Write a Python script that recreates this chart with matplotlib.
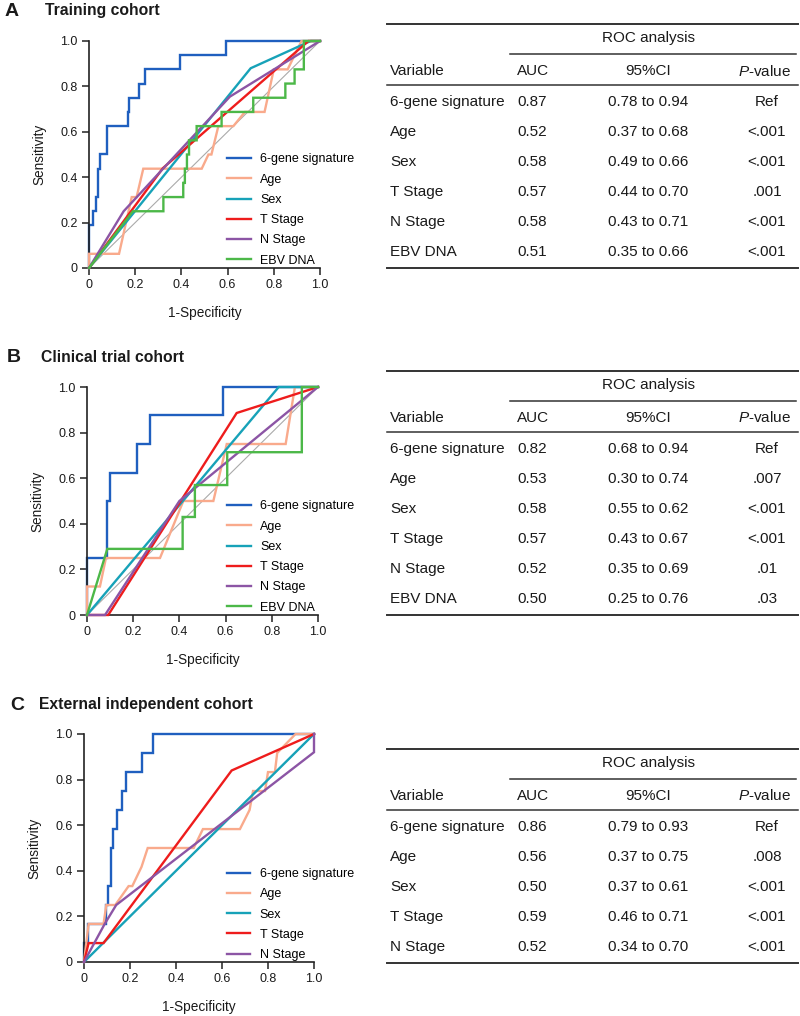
import matplotlib
matplotlib.use('Agg')
import matplotlib.pyplot as plt
from matplotlib.lines import Line2D

plt.rcParams['font.family'] = ['Liberation Sans', 'DejaVu Sans']
plt.rcParams['mathtext.fontset'] = 'custom'
plt.rcParams['mathtext.rm'] = 'Liberation Sans'
plt.rcParams['mathtext.it'] = 'Liberation Sans:italic'

# ---------------- DATA ----------------
LABELS = ['6-gene signature', 'Age', 'Sex', 'T Stage', 'N Stage', 'EBV DNA']
COLORS = ['#1F5FBF', '#F9AA8C', '#17A2B8', '#EE1C1C', '#8C55A5', '#4CB848']
TICKS = [0, 0.2, 0.4, 0.6, 0.8, 1.0]
TICK_LABELS = ['0', '0.2', '0.4', '0.6', '0.8', '1.0']

# Panel A - Training cohort
A_SIG_FPR = [0, 0, 0.016, 0.016, 0.03, 0.03, 0.04, 0.04, 0.048, 0.048, 0.08, 0.08, 0.167, 0.167,
             0.175, 0.175, 0.218, 0.218, 0.242, 0.242, 0.394, 0.394, 0.592, 0.592, 1.0]
A_SIG_TPR = [0, 0.1875, 0.1875, 0.25, 0.25, 0.3125, 0.3125, 0.4375, 0.4375, 0.5, 0.5, 0.625, 0.625,
             0.6875, 0.6875, 0.75, 0.75, 0.8125, 0.8125, 0.875, 0.875, 0.9375, 0.9375, 1.0, 1.0]
A_AGE_FPR = [0, 0, 0.13, 0.185, 0.206, 0.235, 0.488, 0.517, 0.53, 0.56, 0.625, 0.675, 0.76, 0.80, 0.86, 0.92, 1.0]
A_AGE_TPR = [0, 0.0625, 0.0625, 0.3125, 0.3125, 0.4375, 0.4375, 0.5, 0.5, 0.625, 0.625, 0.6875, 0.6875,
             0.875, 0.875, 1.0, 1.0]
A_SEX_FPR = [0, 0.70, 0.96, 1.0]
A_SEX_TPR = [0, 0.88, 1.0, 1.0]
A_T_FPR = [0, 0.32, 0.95, 1.0]
A_T_TPR = [0, 0.44, 1.0, 1.0]
A_N_FPR = [0, 0.15, 0.61, 1.0]
A_N_TPR = [0, 0.25, 0.755, 1.0]
A_EBV_FPR = [0, 0.19, 0.322, 0.322, 0.408, 0.408, 0.415, 0.415, 0.424, 0.424, 0.433, 0.433, 0.466, 0.466,
             0.574, 0.574, 0.711, 0.711, 0.85, 0.85, 0.89, 0.89, 0.93, 0.93, 1.0]
A_EBV_TPR = [0, 0.25, 0.25, 0.3125, 0.3125, 0.375, 0.375, 0.4375, 0.4375, 0.5, 0.5, 0.5625, 0.5625, 0.625,
             0.625, 0.6875, 0.6875, 0.75, 0.75, 0.8125, 0.8125, 0.875, 0.875, 1.0, 1.0]

# Panel B - Clinical trial cohort
B_SIG_FPR = [0, 0, 0.088, 0.088, 0.1, 0.1, 0.218, 0.218, 0.273, 0.273, 0.59, 0.59, 1.0]
B_SIG_TPR = [0, 0.25, 0.25, 0.5, 0.5, 0.625, 0.625, 0.75, 0.75, 0.875, 0.875, 1.0, 1.0]
B_AGE_FPR = [0, 0, 0.056, 0.082, 0.316, 0.417, 0.547, 0.605, 0.86, 0.88, 0.9, 1.0]
B_AGE_TPR = [0, 0.125, 0.125, 0.25, 0.25, 0.5, 0.5, 0.75, 0.75, 0.875, 1.0, 1.0]
B_SEX_FPR = [0, 0.83, 1.0]
B_SEX_TPR = [0, 1.0, 1.0]
B_T_FPR = [0, 0.092, 0.648, 1.0]
B_T_TPR = [0, 0, 0.886, 1.0]
B_N_FPR = [0, 0.078, 0.40, 1.0]
B_N_TPR = [0, 0, 0.5, 1.0]
B_EBV_FPR = [0, 0.088, 0.414, 0.414, 0.467, 0.467, 0.607, 0.607, 0.93, 0.93, 1.0]
B_EBV_TPR = [0, 0.29, 0.29, 0.43, 0.43, 0.57, 0.57, 0.714, 0.714, 1.0, 1.0]

# Panel C - External independent cohort
C_SIG_FPR = [0, 0, 0.016, 0.016, 0.096, 0.096, 0.105, 0.105, 0.116, 0.116, 0.125, 0.125, 0.142, 0.142,
             0.164, 0.164, 0.183, 0.183, 0.252, 0.252, 0.30, 0.30, 1.0]
C_SIG_TPR = [0, 0.083, 0.083, 0.167, 0.167, 0.25, 0.25, 0.333, 0.333, 0.5, 0.5, 0.583, 0.583, 0.667,
             0.667, 0.75, 0.75, 0.833, 0.833, 0.917, 0.917, 1.0, 1.0]
C_AGE_FPR = [0, 0.02, 0.085, 0.097, 0.136, 0.194, 0.21, 0.25, 0.277, 0.477, 0.517, 0.678, 0.72, 0.735,
             0.787, 0.80, 0.83, 0.84, 0.92, 1.0]
C_AGE_TPR = [0, 0.167, 0.167, 0.25, 0.25, 0.333, 0.333, 0.417, 0.5, 0.5, 0.583, 0.583, 0.667, 0.75,
             0.75, 0.833, 0.833, 0.917, 1.0, 1.0]
C_SEX_FPR = [0, 1.0]
C_SEX_TPR = [0, 1.0]
C_T_FPR = [0, 0.02, 0.085, 0.642, 1.0]
C_T_TPR = [0, 0.083, 0.083, 0.84, 1.0]
C_N_FPR = [0, 0.09, 0.14, 1.0, 1.0]
C_N_TPR = [0, 0.167, 0.25, 0.92, 1.0]

# Tables
TAB_A_VAR = ['6-gene signature', 'Age', 'Sex', 'T Stage', 'N Stage', 'EBV DNA']
TAB_A_AUC = ['0.87', '0.52', '0.58', '0.57', '0.58', '0.51']
TAB_A_CI = ['0.78 to 0.94', '0.37 to 0.68', '0.49 to 0.66', '0.44 to 0.70', '0.43 to 0.71', '0.35 to 0.66']
TAB_A_P = ['Ref', '<.001', '<.001', '.001', '<.001', '<.001']

TAB_B_VAR = ['6-gene signature', 'Age', 'Sex', 'T Stage', 'N Stage', 'EBV DNA']
TAB_B_AUC = ['0.82', '0.53', '0.58', '0.57', '0.52', '0.50']
TAB_B_CI = ['0.68 to 0.94', '0.30 to 0.74', '0.55 to 0.62', '0.43 to 0.67', '0.35 to 0.69', '0.25 to 0.76']
TAB_B_P = ['Ref', '.007', '<.001', '<.001', '.01', '.03']

TAB_C_VAR = ['6-gene signature', 'Age', 'Sex', 'T Stage', 'N Stage']
TAB_C_AUC = ['0.86', '0.56', '0.50', '0.59', '0.52']
TAB_C_CI = ['0.79 to 0.93', '0.37 to 0.75', '0.37 to 0.61', '0.46 to 0.71', '0.34 to 0.70']
TAB_C_P = ['Ref', '.008', '<.001', '<.001', '<.001']

# ---------------- FIGURE ----------------
W, H = 800, 1016
fig = plt.figure(figsize=(W / 100, H / 100), dpi=100)
TXT = '#1a1a1a'


def fx(px):
    return px / W


def fy(py):
    return 1 - py / H


def roc_panel(left, top, width, height, curves, legend_x, legend_y):
    ax = fig.add_axes([fx(left), fy(top + height), width / W, height / H])
    ax.plot([0, 1], [0, 1], color='#AAAAAA', lw=0.8, zorder=1)
    handles = []
    for i, (xs, ys) in enumerate(curves):
        ln, = ax.plot(xs, ys, color=COLORS[i], lw=1.7, label=LABELS[i],
                      clip_on=False, zorder=2 + i, solid_joinstyle='miter')
        handles.append(ln)
    ax.set_xlim(0, 1)
    ax.set_ylim(0, 1)
    ax.set_xticks(TICKS)
    ax.set_xticklabels(TICK_LABELS)
    ax.set_yticks(TICKS)
    ax.set_yticklabels(TICK_LABELS)
    for s in ['top', 'right']:
        ax.spines[s].set_visible(False)
    for s in ['left', 'bottom']:
        ax.spines[s].set_linewidth(1.2)
        ax.spines[s].set_color('#222222')
    ax.tick_params(direction='out', length=5, width=1.1, labelsize=9, pad=3,
                   colors='#222222', labelcolor=TXT)
    ax.set_xlabel('1-Specificity', fontsize=9.8, color=TXT, labelpad=11)
    ax.set_ylabel('Sensitivity', fontsize=9.8, color=TXT, labelpad=10)
    ax.legend(handles=handles, loc='lower left', bbox_to_anchor=(legend_x, legend_y),
              frameon=False, fontsize=9, labelspacing=0.66, handlelength=1.9,
              handletextpad=0.75, borderpad=0, borderaxespad=0)
    return ax


def panel_title(letter, title, lx, tx, y):
    fig.text(fx(lx), fy(y), letter, fontsize=14, fontweight='bold', ha='left', va='center', color=TXT)
    fig.text(fx(tx), fy(y), title, fontsize=11.3, fontweight='bold', ha='left', va='center', color=TXT)


def hline(y, x0=387, x1=798, lw=1.4):
    fig.add_artist(Line2D([fx(x0), fx(x1)], [fy(y), fy(y)], color='#333333', lw=lw))


def table(y0, var, auc, ci, p):
    fs = 11
    hline(y0)
    fig.text(fx(648), fy(y0 + 14), 'ROC analysis', fontsize=fs, ha='center', va='center', color=TXT)
    hline(y0 + 30, x0=510, x1=796, lw=1.1)
    hy = y0 + 47
    fig.text(fx(390), fy(hy), 'Variable', fontsize=fs, ha='left', va='center', color=TXT)
    fig.text(fx(517), fy(hy), 'AUC', fontsize=fs, ha='left', va='center', color=TXT)
    fig.text(fx(648), fy(hy), '95%CI', fontsize=fs, ha='center', va='center', color=TXT)
    fig.text(fx(765), fy(hy), r'$\mathit{P}$-value', fontsize=fs, ha='center', va='center', color=TXT)
    hline(y0 + 61, lw=1.1)
    ry = y0 + 78
    for i in range(len(var)):
        yy = ry + 30 * i
        fig.text(fx(390), fy(yy), var[i], fontsize=fs, ha='left', va='center', color=TXT)
        fig.text(fx(517), fy(yy), auc[i], fontsize=fs, ha='left', va='center', color=TXT)
        fig.text(fx(648), fy(yy), ci[i], fontsize=fs, ha='center', va='center', color=TXT)
        fig.text(fx(767), fy(yy), p[i], fontsize=fs, ha='center', va='center', color=TXT)
    hline(ry + 30 * (len(var) - 1) + 16)


# Panel A
panel_title('A', 'Training cohort', 5, 45, 11)
roc_panel(89, 41, 231, 227,
          [(A_SIG_FPR, A_SIG_TPR), (A_AGE_FPR, A_AGE_TPR), (A_SEX_FPR, A_SEX_TPR),
           (A_T_FPR, A_T_TPR), (A_N_FPR, A_N_TPR), (A_EBV_FPR, A_EBV_TPR)],
          0.597, 0.006)
table(24, TAB_A_VAR, TAB_A_AUC, TAB_A_CI, TAB_A_P)

# Panel B
panel_title('B', 'Clinical trial cohort', 7, 41, 357)
roc_panel(87, 387, 231, 228,
          [(B_SIG_FPR, B_SIG_TPR), (B_AGE_FPR, B_AGE_TPR), (B_SEX_FPR, B_SEX_TPR),
           (B_T_FPR, B_T_TPR), (B_N_FPR, B_N_TPR), (B_EBV_FPR, B_EBV_TPR)],
          0.606, 0.006)
table(371, TAB_B_VAR, TAB_B_AUC, TAB_B_CI, TAB_B_P)

# Panel C
panel_title('C', 'External independent cohort', 10, 39, 705)
roc_panel(84, 734, 230, 228,
          [(C_SIG_FPR, C_SIG_TPR), (C_AGE_FPR, C_AGE_TPR), (C_SEX_FPR, C_SEX_TPR),
           (C_T_FPR, C_T_TPR), (C_N_FPR, C_N_TPR)],
          0.62, 0.004)
table(749, TAB_C_VAR, TAB_C_AUC, TAB_C_CI, TAB_C_P)

fig.savefig('out.png', dpi=100)
